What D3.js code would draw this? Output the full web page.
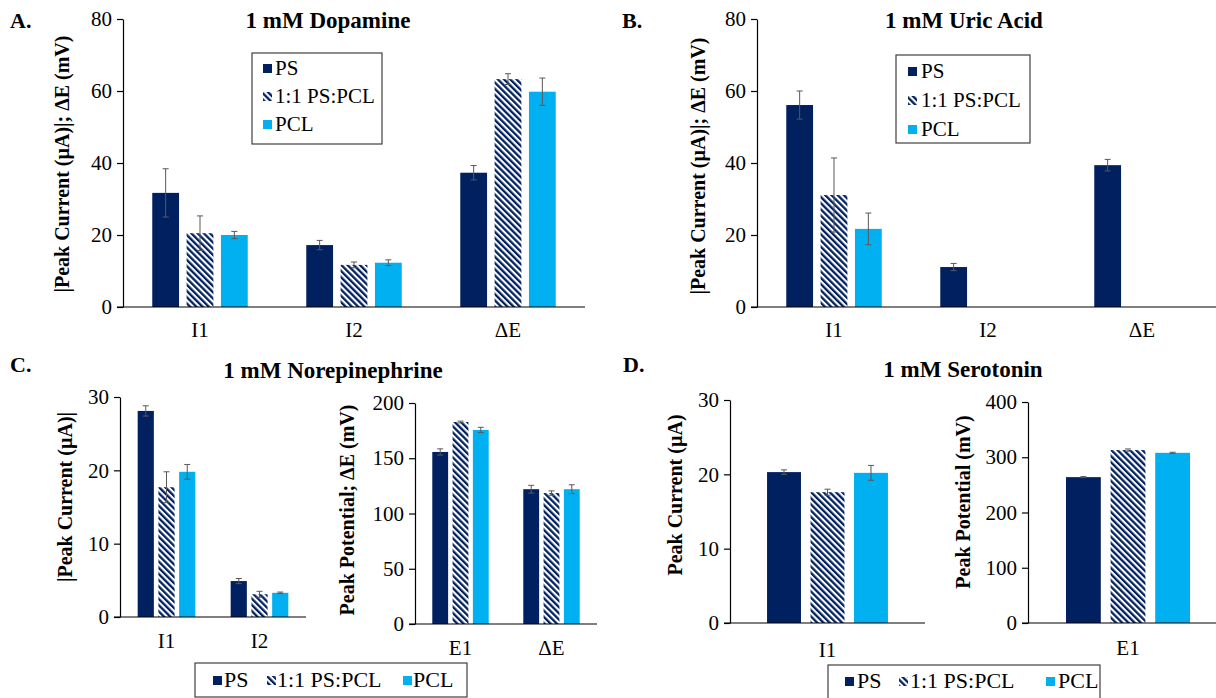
<!DOCTYPE html>
<html>
<head>
<meta charset="utf-8">
<script src="https://cdn.jsdelivr.net/npm/d3@7"></script>
<style>
  body { margin: 0; background: #fff; }
  svg { display: block; }
</style>
</head>
<body>
<script>
// series shared by all four panels
var seriesNames = ["PS", "1:1 PS:PCL", "PCL"];

// A. 1 mM Dopamine
var daCats = ["I1", "I2", "ΔE"];
var daPS = [31.7, 17.2, 37.3], daPSerr = [6.7, 1.3, 2.0];
var daMix = [20.5, 11.7, 63.3], daMixErr = [4.8, 0.8, 1.5];
var daPCL = [20.0, 12.3, 59.8], daPCLerr = [1.0, 0.8, 3.8];

// B. 1 mM Uric Acid (only PS gives I2 and ΔE)
var uaCats = ["I1", "I2", "ΔE"];
var uaPS = [56.1, 11.1, 39.4], uaPSerr = [3.9, 1.0, 1.6];
var uaMix = [31.1, null, null], uaMixErr = [10.3, null, null];
var uaPCL = [21.7, null, null], uaPCLerr = [4.4, null, null];

// C. 1 mM Norepinephrine
var neCurCats = ["I1", "I2"];
var neCurPS = [28.1, 4.9], neCurPSerr = [0.7, 0.35];
var neCurMix = [17.7, 3.1], neCurMixErr = [2.1, 0.4];
var neCurPCL = [19.8, 3.3], neCurPCLerr = [1.0, 0.1];
var nePotCats = ["E1", "ΔE"];
var nePotPS = [155.7, 122.0], nePotPSerr = [2.8, 3.5];
var nePotMix = [182.8, 118.5], nePotMixErr = [0.8, 2.0];
var nePotPCL = [175.6, 122.0], nePotPCLerr = [2.4, 4.0];

// D. 1 mM Serotonin
var seCurCats = ["I1"];
var seCurPS = [20.3], seCurPSerr = [0.3];
var seCurMix = [17.6], seCurMixErr = [0.4];
var seCurPCL = [20.2], seCurPCLerr = [1.0];
var sePotCats = ["E1"];
var sePotPS = [264], sePotPSerr = [1];
var sePotMix = [313], sePotMixErr = [2];
var sePotPCL = [308], sePotPCLerr = [1];

var navy = "#002060", cyan = "#00b0f0";
var fills = [navy, "url(#hatch)", cyan];
var serif = "Liberation Serif";

var svg = d3.select("body").append("svg")
	.attr("width", 1216)
	.attr("height", 698);

var pat = svg.append("defs").append("pattern")
	.attr("id", "hatch")
	.attr("patternUnits", "userSpaceOnUse")
	.attr("width", 4.4)
	.attr("height", 4.4)
	.attr("patternTransform", "rotate(-45)");
pat.append("rect").attr("width", 4.4).attr("height", 4.4).attr("fill", "#fff");
pat.append("rect").attr("width", 2.3).attr("height", 4.4).attr("fill", navy);

function txt(sel, size, bold) {
	return sel.attr("font-family", serif)
		.attr("font-size", size)
		.attr("font-weight", bold ? "bold" : "normal")
		.attr("fill", "#000");
}

function panel(cfg) {
	var g = svg.append("g");

	var x = d3.scaleBand()
		.domain(cfg.cats)
		.range([cfg.x0, cfg.x1])
		.paddingInner(0.38)
		.paddingOuter(0.19);
	var xs = d3.scaleBand()
		.domain(seriesNames)
		.range([0, x.bandwidth()])
		.paddingInner(0.22);
	var y = d3.scaleLinear()
		.domain([0, cfg.max])
		.range([cfg.yBase, cfg.yTop]);

	// y axis
	var ya = g.append("g")
		.attr("transform", "translate(" + cfg.x0 + ",0)")
		.call(d3.axisLeft(y).tickValues(cfg.ticks).tickSize(6).tickSizeOuter(0).tickPadding(5));
	ya.select(".domain").attr("stroke", "#000").attr("stroke-width", 1.2);
	ya.selectAll(".tick line").attr("stroke", "#000").attr("stroke-width", 1.2);
	txt(ya.selectAll(".tick text"), 21);

	// bars
	var rows = [];
	cfg.values.forEach(function(vals, si) {
		vals.forEach(function(v, ci) {
			if (v != null) rows.push({ si: si, s: seriesNames[si], c: cfg.cats[ci], v: v, e: cfg.errs[si][ci] });
		});
	});

	g.selectAll("rect.bar")
		.data(rows)
		.enter()
		.append("rect")
		.attr("class", "bar")
		.attr("x", function(d) { return x(d.c) + xs(d.s); })
		.attr("width", xs.bandwidth())
		.attr("y", function(d) { return y(d.v); })
		.attr("height", function(d) { return y(0) - y(d.v); })
		.attr("fill", function(d) { return fills[d.si]; });

	// error bars
	var eb = g.selectAll("g.err")
		.data(rows)
		.enter()
		.append("g")
		.attr("class", "err")
		.attr("stroke", "#595959")
		.attr("stroke-width", 1)
		.attr("transform", function(d) { return "translate(" + (x(d.c) + xs(d.s) + xs.bandwidth() / 2) + ",0)"; });
	eb.append("line")
		.attr("y1", function(d) { return y(d.v - d.e); })
		.attr("y2", function(d) { return y(d.v + d.e); });
	eb.append("line")
		.attr("x1", -3).attr("x2", 3)
		.attr("y1", function(d) { return y(d.v + d.e); })
		.attr("y2", function(d) { return y(d.v + d.e); });
	eb.append("line")
		.attr("x1", -3).attr("x2", 3)
		.attr("y1", function(d) { return y(d.v - d.e); })
		.attr("y2", function(d) { return y(d.v - d.e); });

	// x baseline
	g.append("line")
		.attr("x1", cfg.x0 - 6)
		.attr("x2", cfg.lineEnd || cfg.x1)
		.attr("y1", y(0))
		.attr("y2", y(0))
		.attr("stroke", "#000")
		.attr("stroke-width", 1.2);

	txt(g.selectAll("text.cat")
		.data(cfg.cats)
		.enter()
		.append("text")
		.attr("class", "cat")
		.attr("x", function(d) { return x(d) + x.bandwidth() / 2; })
		.attr("y", cfg.catY)
		.attr("text-anchor", "middle")
		.text(function(d) { return d; }), 21);

	txt(g.append("text")
		.attr("transform", "translate(" + cfg.labX + "," + cfg.labY + ") rotate(-90)")
		.attr("text-anchor", "middle")
		.attr("dominant-baseline", "central")
		.text(cfg.label), 20, true);
}

function heading(letter, lx, ly, title, tx, ty) {
	txt(svg.append("text").attr("x", lx).attr("y", ly).text(letter), 22, true);
	txt(svg.append("text")
		.attr("x", tx).attr("y", ty)
		.attr("text-anchor", "middle")
		.text(title), 23, true);
}

function marker(g, i, mx, my) {
	g.append("rect")
		.attr("x", mx).attr("y", my)
		.attr("width", 9).attr("height", 9)
		.attr("fill", fills[i]);
}

// vertical legend (panels A, B)
function vLegend(bx, by, bw, bh, mx, tx, baselines) {
	var g = svg.append("g");
	g.append("rect")
		.attr("x", bx).attr("y", by).attr("width", bw).attr("height", bh)
		.attr("fill", "#fff").attr("stroke", "#404040").attr("stroke-width", 1.2);
	seriesNames.forEach(function(s, i) {
		marker(g, i, mx, baselines[i] - 11);
		txt(g.append("text").attr("x", tx).attr("y", baselines[i]).text(s), 21);
	});
}

// horizontal legend (panels C, D)
function hLegend(bx, by, bw, bh, items, base) {
	var g = svg.append("g");
	g.append("rect")
		.attr("x", bx).attr("y", by).attr("width", bw).attr("height", bh)
		.attr("fill", "#fff").attr("stroke", "#404040").attr("stroke-width", 1.2);
	seriesNames.forEach(function(s, i) {
		marker(g, i, items[i][0], base - 11);
		txt(g.append("text").attr("x", items[i][1]).attr("y", base).text(s), 22);
	});
}

panel({
	cats: daCats, values: [daPS, daMix, daPCL], errs: [daPSerr, daMixErr, daPCLerr],
	x0: 123, x1: 585, yBase: 307, yTop: 19, max: 80, ticks: [0, 20, 40, 60, 80],
	catY: 337, labX: 62, labY: 164, label: "|Peak Current (µA)|; ΔE (mV)"
});
panel({
	cats: uaCats, values: [uaPS, uaMix, uaPCL], errs: [uaPSerr, uaMixErr, uaPCLerr],
	x0: 757, x1: 1219, lineEnd: 1216, yBase: 307, yTop: 19, max: 80, ticks: [0, 20, 40, 60, 80],
	catY: 337, labX: 698, labY: 166, label: "|Peak Current (µA)|; ΔE (mV)"
});
panel({
	cats: neCurCats, values: [neCurPS, neCurMix, neCurPCL], errs: [neCurPSerr, neCurMixErr, neCurPCLerr],
	x0: 120, x1: 306, yBase: 617, yTop: 397, max: 30, ticks: [0, 10, 20, 30],
	catY: 648, labX: 65, labY: 497, label: "|Peak Current (µA)|"
});
panel({
	cats: nePotCats, values: [nePotPS, nePotMix, nePotPCL], errs: [nePotPSerr, nePotMixErr, nePotPCLerr],
	x0: 415, x1: 597, yBase: 624, yTop: 403, max: 200, ticks: [0, 50, 100, 150, 200],
	catY: 655, labX: 347, labY: 510, label: "Peak Potential; ΔE (mV)"
});
panel({
	cats: seCurCats, values: [seCurPS, seCurMix, seCurPCL], errs: [seCurPSerr, seCurMixErr, seCurPCLerr],
	x0: 730, x1: 925, yBase: 623, yTop: 400, max: 30, ticks: [0, 10, 20, 30],
	catY: 657, labX: 675, labY: 495, label: "Peak Current (µA)"
});
panel({
	cats: sePotCats, values: [sePotPS, sePotMix, sePotPCL], errs: [sePotPSerr, sePotMixErr, sePotPCLerr],
	x0: 1028, x1: 1228, lineEnd: 1216, yBase: 623, yTop: 402, max: 400, ticks: [0, 100, 200, 300, 400],
	catY: 655, labX: 963, labY: 502, label: "Peak Potential (mV)"
});

heading("A.", 10, 28, "1 mM Dopamine", 328, 28);
heading("B.", 622, 28, "1 mM Uric Acid", 964, 28);
heading("C.", 10, 372, "1 mM Norepinephrine", 333, 378);
heading("D.", 623, 372, "1 mM Serotonin", 963, 377);

vLegend(252, 53, 130, 91, 263, 275, [75, 103, 131]);
vLegend(896, 55, 134, 88, 908, 921, [78, 107, 136]);
hLegend(195, 663, 272, 34, [[213, 224], [267, 277], [403, 413]], 687);
hLegend(828, 665, 272, 34, [[845, 857], [899, 910], [1046, 1058]], 688);
</script>
</body>
</html>
